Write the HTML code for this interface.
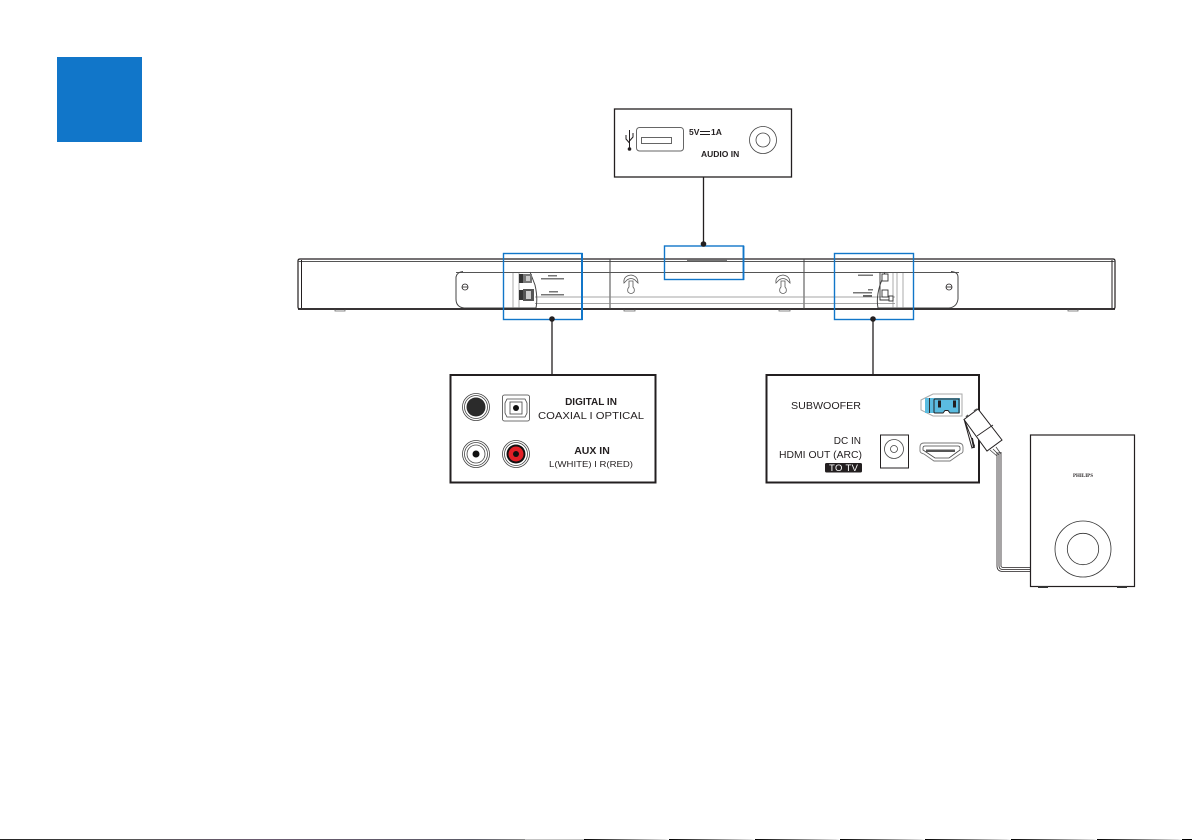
<!DOCTYPE html>
<html><head><meta charset="utf-8"><style>
html,body{margin:0;padding:0;background:#fff}
svg{display:block}
text{font-family:"Liberation Sans",sans-serif;fill:#231f20}
</style></head><body>
<svg width="1192" height="840" viewBox="0 0 1192 840" xmlns="http://www.w3.org/2000/svg">
<defs>
<linearGradient id="fade" x1="0" x2="1" y1="0" y2="0"><stop offset="0" stop-color="#000"/><stop offset="0.95" stop-color="#ddd"/><stop offset="1" stop-color="#fff"/></linearGradient>
<linearGradient id="noise" x1="0" x2="1" y1="0" y2="0"><stop offset="0" stop-color="#222"/><stop offset="0.25" stop-color="#555"/><stop offset="0.5" stop-color="#6a5a70"/><stop offset="0.9" stop-color="#5a5a66"/><stop offset="1" stop-color="#888"/></linearGradient>
</defs>
<rect x="57" y="57" width="85" height="85" fill="#1176c9"/>

<!-- soundbar -->
<g fill="none" stroke="#231f20">
<path d="M300 259H1113Q1115 259 1115 261V307Q1115 309 1113 309H300Q298 309 298 307V261Q298 259 300 259Z" stroke-width="1.200"/>
<path d="M298 261.500H1115" stroke-width="1" stroke="#555"/>
<path d="M298 309H1115" stroke-width="1.800"/>
<path d="M301.500 260V308M1112 260V308" stroke-width="1"/>
<path d="M610 259V309M804 259V309" stroke-width="1" stroke="#444"/>
<path d="M456 272.500H959" stroke-width="1" stroke="#555"/>
<path d="M535 303.500H895" stroke-width="0.800" stroke="#888"/>
<path d="M535 297H895" stroke-width="0.800" stroke="#888"/>
<path d="M687 260.500H727" stroke-width="1.200" stroke="#777"/>
<path d="M463 271.500Q457 272 456 277L456 299Q456 307 464 308L536 308Q538 298 535 285L530 272" stroke-width="1" stroke="#444"/>
<path d="M513 273V308M519 273V308" stroke-width="0.700" stroke="#888"/>
<path d="M951 271.500Q958 272 958 277L958 299Q957 307 949 308L878 308Q876 298 880 285L885 272" stroke-width="1" stroke="#444"/>
<path d="M893 273V308M897 273V308M903 273V308" stroke-width="0.700" stroke="#888"/>
<circle cx="465" cy="287" r="3" stroke-width="0.800"/><path d="M462 287H468" stroke-width="0.800"/>
<circle cx="949" cy="287" r="3" stroke-width="0.800"/><path d="M946 287H952" stroke-width="0.800"/>
<path d="M335 309.500V311H345V309.500M624 309.500V311H635V309.500M779 309.500V311H790V309.500M1068 309.500V311H1078V309.500" stroke-width="0.800" stroke="#666"/>
<g stroke="#555" stroke-width="0.800">
<path d="M624 283Q623 276 631 275Q638 276 638 283L635 280Q631 277 627 280Z"/>
<path d="M629 281H633V287Q635 289 634 292Q631 295 628 292Q627 289 629 287Z"/>
<path d="M776 283Q775 276 783 275Q790 276 790 283L787 280Q783 277 779 280Z"/>
<path d="M781 281H785V287Q787 289 786 292Q783 295 780 292Q779 289 781 287Z"/>
</g>
</g>
<g stroke="none">
<rect x="519" y="274" width="5" height="9" fill="#333"/>
<rect x="523" y="274" width="9" height="9" fill="#777"/>
<rect x="519" y="290" width="5" height="10" fill="#333"/>
<rect x="523" y="289" width="11" height="12" fill="#555"/>
<rect x="526" y="291" width="5" height="8" fill="#ccc"/>
<rect x="526" y="276" width="4" height="5" fill="#ccc"/>
<rect x="548" y="275" width="9" height="1.500" fill="#777"/><rect x="541" y="278" width="23" height="1.500" fill="#777"/>
<rect x="549" y="291" width="9" height="1.500" fill="#777"/><rect x="541" y="294" width="23" height="1.500" fill="#777"/>
<rect x="858" y="274.500" width="15" height="1.500" fill="#777"/>
<rect x="868" y="289" width="5" height="1.500" fill="#777"/><rect x="853" y="292" width="19" height="1.500" fill="#777"/><rect x="863" y="295" width="9" height="2" fill="#666"/>
</g>
<g fill="#fff" stroke="#333" stroke-width="0.900">
<rect x="882" y="274" width="6" height="7"/>
<rect x="882" y="290" width="6" height="7"/>
<path d="M880 272L880 300L889 300" fill="none"/>
<rect x="889" y="296" width="4" height="5"/>
</g>

<!-- blue highlight boxes -->
<g fill="none" stroke="#1176c9" stroke-width="1.400">
<rect x="503.500" y="253.500" width="78.500" height="66"/>
<rect x="664.500" y="246" width="79" height="33.500"/>
<rect x="834.500" y="253.500" width="79" height="66"/>
</g>
<path d="M582 253V320" stroke="#1176c9" stroke-width="2" fill="none"/>
<path d="M743.500 246V280" stroke="#1176c9" stroke-width="1.800" fill="none"/>

<!-- leader lines -->
<g stroke="#231f20" stroke-width="1.300">
<path d="M703.500 177V244M552 319V375M873 319V375"/>
</g>
<g fill="#231f20"><circle cx="703.500" cy="244" r="2.800"/><circle cx="552" cy="319" r="2.800"/><circle cx="873" cy="319" r="2.800"/></g>

<!-- USB box -->
<rect x="614.500" y="109" width="177" height="68" fill="#fff" stroke="#231f20" stroke-width="1.300"/>
<rect x="636.500" y="127.500" width="47" height="23.500" rx="3" fill="#fff" stroke="#666" stroke-width="1"/>
<rect x="641.500" y="137.500" width="30" height="6" fill="#fff" stroke="#555" stroke-width="0.900"/>
<circle cx="763" cy="140" r="13.500" fill="#fff" stroke="#444" stroke-width="0.800"/>
<circle cx="763" cy="140" r="7" fill="#fff" stroke="#444" stroke-width="0.800"/>
<g stroke="#231f20" stroke-width="1" fill="none"><path d="M629.500 130V148M626 135V139L629.500 143M633 133V137L629.500 141"/></g>
<circle cx="629.500" cy="149" r="1.800" fill="#231f20"/>
<text x="689" y="135" font-size="8.500" font-weight="bold">5V</text>
<path d="M700 131.500H710M700 134.500H710" stroke="#231f20" stroke-width="1"/>
<text x="711" y="135" font-size="8.500" font-weight="bold">1A</text>
<text x="701" y="157" font-size="8.500" font-weight="bold">AUDIO IN</text>

<!-- Digital box -->
<rect x="450.500" y="375" width="205" height="107.500" fill="#fff" stroke="#231f20" stroke-width="2"/>
<g fill="none" stroke="#444" stroke-width="0.800">
<circle cx="476" cy="407" r="13.500"/><circle cx="476" cy="407" r="11.500"/>
<circle cx="476" cy="454" r="13.500"/><circle cx="476" cy="454" r="11.500"/><circle cx="476" cy="454" r="9"/>
<circle cx="516" cy="454" r="13.500"/><circle cx="516" cy="454" r="11.500"/>
<rect x="502.500" y="395" width="27" height="26" rx="2"/>
<path d="M507 399H525L527 403V413L525 417H507L505 413V403Z"/>
<rect x="510" y="402" width="12" height="12"/>
</g>
<circle cx="476" cy="407" r="9.500" fill="#2b2b2b"/>
<circle cx="476" cy="454" r="3.500" fill="#111"/>
<circle cx="516" cy="454" r="9.500" fill="#111"/>
<circle cx="516" cy="454" r="7.500" fill="#e21f26"/>
<circle cx="516" cy="454" r="3" fill="#111"/>
<circle cx="516" cy="408" r="3" fill="#111"/>
<text x="591" y="405" font-size="10" font-weight="bold" text-anchor="middle">DIGITAL IN</text>
<text x="538" y="419" font-size="10" textLength="106" lengthAdjust="spacingAndGlyphs">COAXIAL  I  OPTICAL</text>
<text x="592" y="454" font-size="10.500" font-weight="bold" text-anchor="middle">AUX IN</text>
<text x="549" y="467" font-size="8" textLength="84" lengthAdjust="spacingAndGlyphs">L(WHITE)  I  R(RED)</text>

<!-- Subwoofer box -->
<rect x="766.500" y="375" width="212.500" height="107.500" fill="#fff" stroke="#231f20" stroke-width="2"/>
<text x="791" y="409" font-size="10" textLength="70" lengthAdjust="spacingAndGlyphs">SUBWOOFER</text>
<text x="861" y="444" font-size="10" text-anchor="end">DC IN</text>
<text x="779" y="458" font-size="10" textLength="83" lengthAdjust="spacingAndGlyphs">HDMI OUT (ARC)</text>
<rect x="825" y="463" width="37" height="9.500" rx="1.500" fill="#231f20"/>
<text x="829" y="471" font-size="9.500" style="fill:#fff" textLength="29">TO TV</text>
<rect x="880.500" y="435" width="28" height="33" fill="#fff" stroke="#231f20" stroke-width="1"/>
<circle cx="894" cy="449" r="9.500" fill="#fff" stroke="#444" stroke-width="0.800"/>
<circle cx="894" cy="449" r="3.500" fill="#fff" stroke="#444" stroke-width="0.800"/>
<!-- subwoofer socket -->
<path d="M921 400L933 394H962V416H933L921 410Z" fill="#fff" stroke="#aaa" stroke-width="1"/>
<path d="M925 398H960V413H950L948 410.500H945L943 413H925Z" fill="#5bbce0"/>
<path d="M935 399H959V413H950L948 410.500H945L943 413H935Q934 413 934 412V400Q934 399 935 399Z" fill="none" stroke="#231f20" stroke-width="1"/>
<path d="M929.500 398V413" stroke="#333" stroke-width="1"/>
<rect x="938" y="400.500" width="3" height="7" fill="#231f20"/><rect x="953" y="400.500" width="3" height="7" fill="#231f20"/>
<!-- HDMI -->
<path d="M924 443H958Q963 443 963 447V451Q963 453 960 454L950 461H934L924 454Q920 453 920 451V447Q920 443 924 443Z" fill="#fff" stroke="#777" stroke-width="0.900"/>
<path d="M925 446H958Q960 446 960 448V450L949 458H935L923 450V448Q923 446 925 446Z" fill="#fff" stroke="#444" stroke-width="0.800"/>
<rect x="926" y="449.500" width="29" height="2.500" fill="#555"/>

<!-- plug + cable -->
<g fill="none" stroke="#231f20">
<path d="M997 452V566Q997 571.500 1003 571.500H1031M999 452V566Q999 569.500 1003 569.500H1031M1001 452V566Q1001 567.500 1004 567.500H1031" stroke-width="0.800"/>
<path d="M990 450L997 456M993 449L999 455M996 447L1001 454" stroke="#444" stroke-width="0.800"/>
</g>
<path d="M964 419L972 448L974.500 446Z" fill="#fff" stroke="#231f20" stroke-width="1"/>
<path d="M972 438L974 448" stroke="#231f20" stroke-width="1.800"/>
<path d="M964 419.500L978 409L1002 440L987 451Z" fill="#fff" stroke="#231f20" stroke-width="1"/>
<path d="M977 436L993 425" stroke="#231f20" stroke-width="0.800"/>
<path d="M966 417L968 415M974 411L977 409" stroke="#555" stroke-width="1.500"/>

<!-- subwoofer -->
<rect x="1030.500" y="435" width="104" height="151.500" fill="#fff" stroke="#231f20" stroke-width="1.200"/>
<circle cx="1083" cy="549" r="28" fill="none" stroke="#333" stroke-width="0.800"/>
<circle cx="1083" cy="549" r="15.700" fill="none" stroke="#333" stroke-width="0.800"/>
<rect x="1038" y="586" width="10" height="2" fill="#333"/>
<rect x="1117" y="586" width="10" height="2" fill="#333"/>
<text x="1083" y="477" font-size="5" font-weight="bold" text-anchor="middle" style="font-family:'Liberation Serif',serif">PHILIPS</text>

<!-- bottom edge strip -->
<rect x="0" y="839" width="525" height="1" fill="url(#noise)"/>
<rect x="525" y="839" width="59" height="1" fill="#888" opacity="0.500"/>
<rect x="584" y="839" width="85" height="1" fill="url(#fade)"/>
<rect x="669" y="839" width="86" height="1" fill="url(#fade)"/>
<rect x="755" y="839" width="85" height="1" fill="url(#fade)"/>
<rect x="840" y="839" width="85" height="1" fill="url(#fade)"/>
<rect x="925" y="839" width="86" height="1" fill="url(#fade)"/>
<rect x="1011" y="839" width="86" height="1" fill="url(#fade)"/>
<rect x="1097" y="839" width="85" height="1" fill="url(#fade)"/>
<rect x="1182" y="839" width="10" height="1" fill="#000"/>
</svg>
</body></html>
